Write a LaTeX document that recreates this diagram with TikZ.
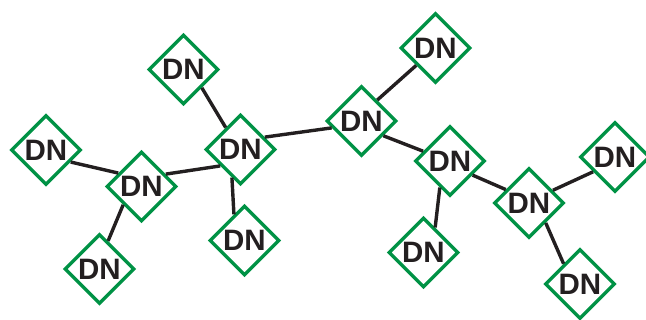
\documentclass[tikz,border=0pt]{standalone}
\usepackage{fontspec}
\setmainfont{Liberation Sans}
\usetikzlibrary{shapes.geometric}
\definecolor{dngreen}{RGB}{0,146,69}
\definecolor{dnink}{RGB}{35,31,32}
\tikzset{
  dnnode/.style={shape=diamond, draw=dngreen, line width=3.4pt, fill=white,
    minimum width=70pt, minimum height=70pt, inner sep=0pt,
    text=dnink, font=\fontsize{29.5}{29.5}\selectfont\bfseries},
  link/.style={draw=dnink, line width=3.4pt}
}
\begin{document}
\begin{tikzpicture}[x=1pt,y=-1pt]
\useasboundingbox (0,0) rectangle (646,320);
\node[dnnode] (A) at (46,150) {DN};
\node[dnnode] (B) at (141.5,186.5) {DN};
\node[dnnode] (C) at (99.5,269) {DN};
\node[dnnode] (D) at (183.5,69.5) {DN};
\node[dnnode] (E) at (240.5,149.5) {DN};
\node[dnnode] (F) at (244.5,240.5) {DN};
\node[dnnode] (G) at (361.5,121) {DN};
\node[dnnode] (H) at (435.5,48) {DN};
\node[dnnode] (I) at (450,161) {DN};
\node[dnnode] (J) at (423.5,252.5) {DN};
\node[dnnode] (K) at (529,203) {DN};
\node[dnnode] (L) at (615,157) {DN};
\node[dnnode] (M) at (580,284) {DN};
\draw[link] (A.-26.6) -- (B.150);
\draw[link] (B.225) -- (C.73);
\draw[link] (B.27) -- (E.219);
\draw[link] (D.-45) -- (E.124.6);
\draw[link] (E.253) -- (F.112.7);
\draw[link] (E.27) -- (G.193);
\draw[link] (G.53) -- (H.222.8);
\draw[link] (G.-34) -- (I.160);
\draw[link] (I.249.6) -- (J.65.7);
\draw[link] (I.-32.6) -- (K.150);
\draw[link] (K.28.4) -- (L.214);
\draw[link] (K.-50.7) -- (M.129);
\end{tikzpicture}
\end{document}
